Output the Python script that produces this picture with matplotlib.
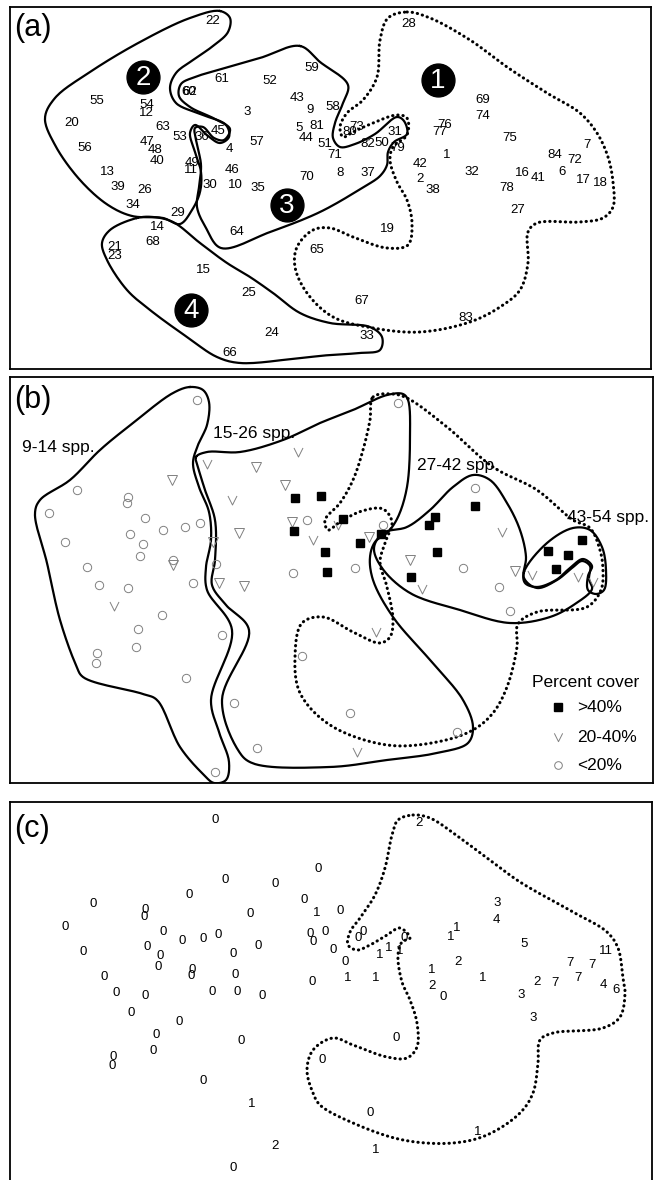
import numpy as np
import matplotlib
matplotlib.use("Agg")
import matplotlib.pyplot as plt

plt.rcParams['font.family'] = ['Liberation Sans', 'DejaVu Sans']

# #############################################################################
# DATA (positions, image pixel units)

# panel (a): site numbers
a_labels = ['22', '61', '52', '59', '55', '54', '12', '60', '62', '3', '43', '9', '20', '63', '53', '36', '45',
            '57', '5', '81', '44', '51', '47', '48', '40', '4', '56', '49', '11', '46', '70', '13', '39', '26',
            '30', '10', '35', '34', '29', '14', '64', '68', '21', '23', '65', '15', '25', '24', '66', '28', '69',
            '74', '58', '73', '80', '76', '77', '31', '75', '7', '50', '79', '82', '71', '1', '84', '72', '42',
            '6', '8', '37', '32', '16', '41', '17', '18', '2', '38', '78', '27', '19', '67', '83', '33']
a_x = [213, 222, 270, 312, 97, 147, 146, 189, 190, 247, 297, 310, 72, 163, 180, 202, 218,
       257, 299, 317, 306, 325, 147, 155, 157, 229, 85, 192, 191, 232, 307, 107, 118, 145,
       210, 235, 258, 133, 178, 157, 237, 153, 115, 115, 317, 203, 249, 272, 230, 409, 483,
       483, 333, 357, 350, 445, 440, 395, 510, 587, 382, 398, 368, 335, 447, 555, 575, 420,
       562, 340, 368, 472, 522, 538, 583, 600, 420, 433, 507, 518, 387, 362, 466, 367]
a_y = [21, 79, 81, 68, 101, 105, 113, 92, 92, 112, 98, 110, 123, 127, 137, 137, 131,
       142, 128, 126, 138, 144, 142, 150, 161, 149, 148, 163, 170, 170, 177, 172, 187, 190,
       185, 185, 188, 205, 213, 227, 232, 242, 247, 256, 250, 270, 293, 333, 353, 24, 100,
       116, 107, 127, 132, 125, 132, 132, 138, 145, 143, 148, 144, 155, 155, 155, 160, 164,
       172, 173, 173, 172, 173, 178, 180, 183, 179, 190, 188, 210, 229, 301, 318, 336]

# panel (a): group badges
group_ids = ['1', '2', '3', '4']
group_x = [438, 143, 287, 191]
group_y = [80, 77, 205, 310]

# panel (a): group outlines
group1_line = [(407, 12), (430, 18), (470, 40), (507, 67), (547, 93), (580, 113), (597, 133), (608, 157),
               (613, 182), (613, 207), (603, 218), (580, 222), (537, 223), (528, 232), (528, 263), (520, 290),
               (500, 307), (470, 322), (420, 332), (373, 328), (333, 317), (307, 293), (295, 267), (297, 247),
               (313, 230), (330, 228), (353, 237), (387, 248), (408, 245), (412, 223), (407, 200), (397, 182),
               (390, 160), (393, 147), (407, 135), (407, 118), (397, 115), (373, 123), (353, 132), (343, 137),
               (340, 127), (347, 113), (363, 100), (377, 77), (380, 40), (388, 18)]
group2_line = [(220, 11), (230, 18), (228, 32), (213, 46), (193, 60), (176, 73), (170, 88), (176, 103),
               (200, 114), (226, 125), (229, 137), (220, 143), (208, 136), (195, 125), (190, 133), (195, 152),
               (201, 172), (200, 192), (192, 210), (180, 224), (163, 218), (132, 216), (108, 205), (80, 180),
               (55, 145), (45, 118), (55, 98), (90, 72), (140, 42), (190, 18)]
group3_line = [(300, 46), (320, 62), (348, 85), (343, 103), (335, 123), (333, 138), (340, 147), (355, 144),
               (375, 134), (397, 117), (404, 121), (407, 134), (394, 142), (388, 152), (387, 165), (380, 176),
               (362, 188), (320, 212), (270, 232), (221, 248), (206, 228), (197, 207), (199, 187), (201, 165),
               (196, 140), (195, 128), (203, 127), (214, 138), (224, 140), (230, 129), (215, 119), (190, 107),
               (179, 96), (181, 84), (195, 77), (218, 70), (260, 58)]
group4_line = [(137, 218), (153, 217), (173, 222), (200, 243), (227, 263), (250, 277), (273, 293),
               (300, 313), (330, 323), (370, 327), (382, 337), (380, 350), (360, 353), (330, 355), (300, 358),
               (240, 363), (217, 357), (187, 337), (150, 310), (127, 290), (107, 260), (102, 243), (110, 230)]

# panel (b): percent cover classes
high_x = [295, 321, 343, 294, 381, 360, 325, 327, 435, 429, 475, 437, 411, 582, 548, 568, 556]
high_y = [498, 496, 519, 531, 534, 543, 552, 572, 517, 525, 506, 552, 577, 540, 551, 555, 569]
mid_tri_x = [172, 173, 213, 239, 256, 285, 292, 369, 410, 515, 219, 244]
mid_tri_y = [480, 565, 542, 533, 467, 485, 522, 537, 560, 571, 583, 586]
mid_v_x = [207, 298, 232, 313, 338, 502, 422, 532, 578, 593, 114, 376, 357]
mid_v_y = [464, 452, 500, 540, 525, 532, 589, 575, 577, 582, 606, 632, 752]
low_x = [197, 77, 49, 65, 128, 127, 145, 163, 185, 200, 130, 143, 140, 173, 87, 216, 307, 398, 383, 475,
         463, 355, 293, 99, 128, 193, 162, 138, 136, 97, 96, 222, 302, 186, 234, 257, 215, 499, 510, 350, 457]
low_y = [400, 490, 513, 542, 497, 503, 518, 530, 527, 523, 534, 544, 556, 560, 567, 564, 520, 403, 525, 488,
         568, 568, 573, 585, 588, 583, 615, 629, 647, 653, 663, 635, 656, 678, 703, 748, 772, 587, 611, 713, 732]

# panel (b): species richness zones
zone_names = ['9-14 spp.', '15-26 spp.', '27-42 spp.', '43-54 spp.']
zone_text_x = [22, 213, 417, 567]
zone_text_y = [447, 433, 465, 517]
zone1_line = [(190, 387), (203, 390), (209, 402), (207, 425), (198, 445), (193, 463), (199, 487), (209, 512),
              (211, 540), (206, 567), (207, 590), (232, 630), (211, 700), (219, 732), (229, 762), (226, 780),
              (214, 783), (203, 774), (180, 747), (157, 700), (143, 694), (83, 677), (76, 665), (60, 620),
              (47, 563), (35, 513), (40, 500), (70, 480), (100, 450), (133, 423), (173, 393)]
zone2_line = [(196, 457), (207, 452), (240, 452), (283, 440), (320, 423), (353, 410), (387, 395), (403, 394),
              (408, 400), (410, 437), (407, 487), (398, 517), (388, 532), (375, 542), (370, 557), (373, 580),
              (393, 617), (430, 660), (463, 700), (473, 727), (468, 743), (437, 753), (387, 760), (330, 767),
              (252, 763), (238, 750), (222, 700), (249, 630), (226, 605), (212, 585), (215, 560), (215, 520),
              (205, 490), (198, 467)]
zone3_line = [(383, 533), (407, 527), (430, 510), (453, 487), (473, 475), (490, 480), (507, 503), (520, 530),
              (526, 557), (524, 578), (537, 588), (557, 580), (572, 568), (582, 561), (590, 566), (589, 579),
              (592, 589), (575, 604), (550, 617), (510, 623), (460, 610), (410, 593), (382, 568), (374, 548)]
zone4_line = [(524, 572), (547, 543), (573, 528), (590, 530), (602, 547), (606, 570), (604, 590), (596, 594),
              (588, 590), (588, 576), (592, 566), (583, 559), (571, 567), (556, 580), (537, 587), (525, 583)]
zone_dot_line = [(373, 397), (392, 394), (407, 398), (447, 427), (493, 467), (537, 490), (573, 520), (590, 528),
                 (600, 550), (603, 570), (601, 590), (587, 607), (537, 612), (518, 624), (517, 647), (507, 687),
                 (493, 713), (473, 730), (437, 742), (387, 745), (330, 725), (300, 693), (295, 657), (302, 623),
                 (323, 617), (353, 632), (380, 643), (390, 637), (393, 620), (387, 587), (380, 562), (385, 543),
                 (392, 522), (383, 509), (362, 511), (340, 522), (328, 530), (325, 520), (340, 503), (353, 480),
                 (363, 450), (370, 420)]

# panel (c): counts
c_labels = ['0', '0', '0', '0', '0', '0', '1', '0', '0', '0', '0', '0', '0', '0', '0', '0', '0', '0', '0', '0',
            '0', '0', '0', '0', '0', '0', '0', '0', '0', '0', '0', '0', '0', '0', '0', '0', '0', '0', '0', '0',
            '0', '0', '0', '0', '1', '2', '0',
            '2', '0', '3', '4', '0', '0', '0', '1', '1', '5', '11', '0', '1', '1', '1', '0', '2', '7', '7', '1',
            '1', '7', '1', '1', '2', '7', '4', '2', '0', '3', '6', '3', '0', '0', '1', '1']
c_x = [215, 318, 225, 275, 189, 304, 317, 93, 145, 144, 250, 65, 163, 182, 203, 218, 310, 313, 325, 83,
       147, 160, 258, 233, 158, 192, 191, 235, 104, 312, 116, 145, 212, 237, 262, 131, 179, 156, 153, 113,
       112, 241, 322, 203, 252, 275, 233,
       419, 340, 497, 496, 358, 363, 404, 451, 457, 524, 606, 333, 380, 389, 400, 345, 458, 570, 592, 432,
       483, 578, 348, 376, 537, 555, 603, 432, 443, 521, 616, 533, 396, 370, 478, 376]
c_y = [820, 869, 880, 884, 895, 900, 913, 904, 910, 917, 914, 927, 932, 941, 939, 935, 934, 942, 932, 952,
       947, 956, 946, 954, 967, 970, 976, 975, 977, 982, 993, 996, 992, 992, 996, 1013, 1022, 1035, 1051, 1057,
       1066, 1041, 1060, 1081, 1104, 1146, 1168,
       823, 911, 903, 920, 938, 932, 938, 937, 928, 944, 951, 950, 955, 948, 951, 962, 962, 963, 965, 970,
       978, 978, 978, 978, 982, 983, 985, 986, 997, 995, 990, 1018, 1038, 1113, 1132, 1150]
c_line = [(413, 815), (430, 818), (460, 838), (487, 858), (520, 882), (573, 912), (607, 932), (618, 948),
          (623, 978), (625, 993), (620, 1017), (603, 1028), (553, 1033), (540, 1040), (538, 1063), (533, 1093),
          (520, 1113), (487, 1135), (453, 1143), (403, 1140), (353, 1123), (320, 1105), (313, 1093), (307, 1070),
          (313, 1050), (333, 1038), (353, 1045), (387, 1057), (407, 1058), (417, 1047), (417, 1023), (410, 1000),
          (402, 982), (398, 955), (402, 942), (410, 938), (400, 928), (387, 935), (370, 945), (357, 950),
          (348, 945), (350, 932), (360, 918), (375, 895), (385, 868), (392, 835), (398, 820)]

panel_tags = ['(a)', '(b)', '(c)']
tag_y = [28, 400, 829]


# #############################################################################
# HELPERS

W, H = 656, 1180


def panel(fig, left, top, right, bottom):
    ax = fig.add_axes([left / W, 1 - bottom / H, (right - left) / W, (bottom - top) / H])
    ax.set_xlim(left, right)
    ax.set_ylim(bottom, top)
    ax.set_xticks([])
    ax.set_yticks([])
    for s in ax.spines.values():
        s.set_linewidth(1.3)
    return ax


def smooth_closed(pts, n=16):
    # centripetal catmull-rom through the traced points
    p = np.asarray(pts, float)
    m = len(p)
    out = []
    for i in range(m):
        P0, P1, P2, P3 = p[i - 1], p[i], p[(i + 1) % m], p[(i + 2) % m]
        t0 = 0.0
        t1 = t0 + np.linalg.norm(P1 - P0) ** 0.5 + 1e-6
        t2 = t1 + np.linalg.norm(P2 - P1) ** 0.5 + 1e-6
        t3 = t2 + np.linalg.norm(P3 - P2) ** 0.5 + 1e-6
        t = np.linspace(t1, t2, n, endpoint=False)[:, None]
        A1 = (t1 - t) / (t1 - t0) * P0 + (t - t0) / (t1 - t0) * P1
        A2 = (t2 - t) / (t2 - t1) * P1 + (t - t1) / (t2 - t1) * P2
        A3 = (t3 - t) / (t3 - t2) * P2 + (t - t2) / (t3 - t2) * P3
        B1 = (t2 - t) / (t2 - t0) * A1 + (t - t0) / (t2 - t0) * A2
        B2 = (t3 - t) / (t3 - t1) * A2 + (t - t1) / (t3 - t1) * A3
        out.append((t2 - t) / (t2 - t1) * B1 + (t - t1) / (t2 - t1) * B2)
    out = np.vstack(out)
    return np.vstack([out, out[:1]])


def outline(ax, pts, dotted=False):
    c = smooth_closed(pts)
    if dotted:
        ax.plot(c[:, 0], c[:, 1], color='black', lw=2.2, linestyle=(0, (0.1, 1.6)),
                dash_capstyle='round', clip_on=False)
    else:
        ax.plot(c[:, 0], c[:, 1], color='black', lw=1.6, solid_joinstyle='round')


fig = plt.figure(figsize=(W / 100, H / 100), dpi=100)

# #############################################################################
# PANEL (a)
ax_a = panel(fig, 10, 7, 651, 369)
outline(ax_a, group1_line, dotted=True)
for ln in (group2_line, group3_line, group4_line):
    outline(ax_a, ln)
for lab, x, y in zip(a_labels, a_x, a_y):
    ax_a.text(x, y, lab, fontsize=9.5, ha='center', va='center')
ax_a.scatter(group_x, group_y, s=560, color='black', zorder=3)
for g, x, y in zip(group_ids, group_x, group_y):
    ax_a.text(x, y + 1, g, fontsize=20, color='white', ha='center', va='center', zorder=4)

# #############################################################################
# PANEL (b)
ax_b = panel(fig, 10, 377, 653, 783)
for ln in (zone1_line, zone2_line, zone3_line, zone4_line):
    outline(ax_b, ln)
outline(ax_b, zone_dot_line, dotted=True)
grey = '#808080'
ax_b.plot(low_x, low_y, 'o', ms=6, mfc='none', mec=grey, mew=0.7, ls='none')
ax_b.plot(mid_tri_x, mid_tri_y, 'v', ms=6.5, mfc='none', mec=grey, mew=0.7, ls='none')
v_path = [(-1, 1), (0, -1), (1, 1)]
ax_b.plot(mid_v_x, mid_v_y, marker=v_path, ms=6.5, mfc='none', mec=grey, mew=0.7, ls='none')
ax_b.plot(high_x, high_y, 's', ms=5.5, color='black', ls='none')
for name, x, y in zip(zone_names, zone_text_x, zone_text_y):
    ax_b.text(x, y, name, fontsize=12.5, ha='left', va='center')

# legend, drawn by hand like the original
ax_b.text(532, 682, 'Percent cover', fontsize=12.5, ha='left', va='center')
ax_b.plot([558], [707], 's', ms=5.5, color='black')
ax_b.plot([558], [737], marker=v_path, ms=6, mfc='none', mec=grey, mew=0.7)
ax_b.plot([558], [765], 'o', ms=5.5, mfc='none', mec=grey, mew=0.7)
for lab, y in zip(['>40%', '20-40%', '<20%'], [707, 737, 765]):
    ax_b.text(577, y, lab, fontsize=12.5, ha='left', va='center')

# #############################################################################
# PANEL (c)
ax_c = panel(fig, 10, 802, 652, 1195)
outline(ax_c, c_line, dotted=True)
for lab, x, y in zip(c_labels, c_x, c_y):
    ax_c.text(x, y, lab, fontsize=9.5, ha='center', va='center')

for ax, tag, y in zip((ax_a, ax_b, ax_c), panel_tags, tag_y):
    ax.text(14, y, tag, fontsize=22, ha='left', va='center')

fig.savefig('out.png', dpi=100)
